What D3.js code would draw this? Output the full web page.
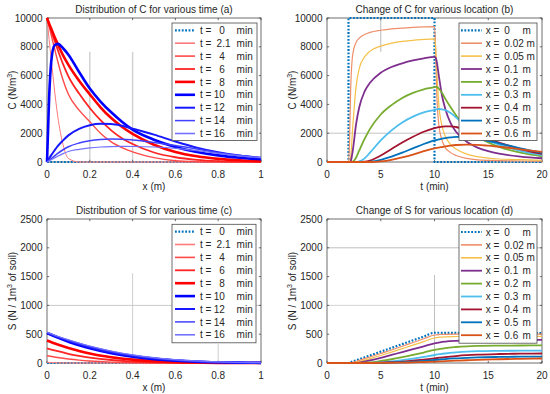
<!DOCTYPE html>
<html><head><meta charset="utf-8">
<script src="https://cdn.jsdelivr.net/npm/d3@7"></script>
<style>
body{margin:0;background:#fff}
svg{display:block}
text{font-family:"Liberation Sans",Arial,Helvetica,sans-serif;fill:#262626}
</style>
</head><body>
<svg id="c" width="550" height="394"></svg>
<script>
// ---------------- DATA ----------------
// Panel (a): C vs x at various times
const xA = [0, 0.01, 0.02, 0.035, 0.05, 0.075, 0.1, 0.15, 0.2, 0.25, 0.3, 0.35, 0.4, 0.5, 0.6, 0.7, 0.8, 0.9, 1.0];
const timeLabels = ["0", "2.1", "4", "6", "8", "10", "12", "14", "16"];
const CA_t0   = [0,0,0,0,0,0,0,0,0,0,0,0,0,0,0,0,0,0,0];
const CA_t2_1 = [10000,8500,7100,5000,3200,1200,250,0,0,0,0,0,0,0,0,0,0,0,0];
const CA_t4   = [10000,9400,8800,7900,7000,5700,4700,3600,2800,2000,1400,1000,700,300,90,20,0,0,0];
const CA_t6   = [10000,9550,9100,8450,7800,6800,5950,4750,3750,2900,2200,1650,1250,660,330,150,60,20,5];
const CA_t8   = [10000,9600,9250,8700,8200,7400,6750,5650,4700,3800,3050,2450,1950,1200,700,400,220,120,60];
const CA_t10  = [0,4500,7000,8100,8200,7900,7450,6250,5100,4200,3450,2800,2250,1550,1050,700,460,300,190];
const CA_t12  = [0,250,480,800,1100,1500,1850,2300,2550,2650,2640,2520,2320,1900,1420,1000,680,450,290];
const CA_t14  = [0,120,240,420,600,850,1060,1320,1480,1560,1590,1580,1530,1360,1150,900,650,450,300];
const CA_t16  = [0,80,160,280,400,580,730,880,980,1040,1070,1080,1075,1040,950,790,600,430,300];

// Panel (b): C vs t at various locations
const tB = [0, 2, 2.1, 2.2, 2.4, 2.7, 3, 3.5, 4, 5, 6, 7, 8, 9, 10, 10.1, 10.2, 10.4, 10.7, 11, 11.5, 12, 13, 14, 15, 16, 18, 20];
const locLabels = ["0", "0.02", "0.05", "0.1", "0.2", "0.3", "0.4", "0.5", "0.6"];
const CB_x0    = [[0,0],[2,0],[2,10000],[10,10000],[10,0],[20,0]];
const CB_x0_02 = [0,0,1500,5000,7500,8300,8600,8850,9000,9150,9250,9300,9350,9380,9400,8000,5000,2600,1500,1000,650,450,250,150,110,90,70,60];
const CB_x0_05 = [0,0,0,300,2500,5200,6500,7300,7700,8050,8250,8380,8450,8510,8550,8000,6500,4000,2500,1800,1200,900,550,370,270,210,160,120];
const CB_x0_1  = [0,0,0,50,800,2600,3800,4900,5500,6200,6600,6850,7050,7200,7300,7250,7000,6000,4600,3700,2700,2100,1400,1000,750,580,380,260];
const CB_x0_2  = [0,0,0,0,30,300,800,1600,2300,3300,3950,4450,4800,5050,5200,5220,5210,5100,4800,4400,3800,3250,2300,1750,1350,1050,650,400];
const CB_x0_3  = [0,0,0,0,0,0,40,250,650,1500,2200,2750,3150,3450,3620,3640,3660,3680,3660,3600,3400,3100,2400,1900,1500,1200,780,480];
const CB_x0_4  = [0,0,0,0,0,0,0,20,100,450,900,1350,1750,2100,2350,2370,2390,2420,2450,2480,2480,2430,2200,1850,1600,1350,900,560];
const CB_x0_5  = [0,0,0,0,0,0,0,0,20,150,380,650,950,1250,1500,1520,1540,1570,1620,1660,1710,1740,1720,1620,1450,1300,950,640];
const CB_x0_6  = [0,0,0,0,0,0,0,0,0,40,150,320,520,750,950,960,975,1000,1040,1080,1140,1180,1210,1190,1130,1060,880,700];

// Panel (c): S vs x at various times
const xC = [0, 0.05, 0.1, 0.15, 0.2, 0.3, 0.4, 0.5, 0.6, 0.7, 0.8, 0.9, 1.0];
const SC_t0   = [0,0,0,0,0,0,0,0,0,0,0,0,0];
const SC_t2_1 = [12,3,0.5,0,0,0,0,0,0,0,0,0,0];
const SC_t4   = [125,95,70,50,35,15,5,1,0,0,0,0,0];
const SC_t6   = [255,205,160,125,95,52,26,12,5,2,0,0,0];
const SC_t8   = [390,320,260,210,165,100,58,32,16,8,3,1,0];
const SC_t10  = [520,440,370,310,255,170,110,68,40,22,12,6,3];
const SC_t12  = [525,450,385,325,270,185,122,78,48,28,15,8,4];
const SC_t14  = [530,458,395,337,285,198,133,86,54,32,18,10,5];
const SC_t16  = [535,465,403,347,295,208,142,93,60,36,21,12,6];

// Panel (d): S vs t at various locations
const tD = [0, 2, 2.2, 2.5, 3, 4, 5, 6, 7, 8, 9, 10, 10.5, 11, 12, 13, 14, 16, 18, 20];
const SD_x0    = [0,0,13,33,66,131,197,262,328,394,459,525,525,524,523,522,521,520,519,518];
const SD_x0_02 = [0,0,3,15,45,105,165,225,290,355,420,486,495,498,500,500,500,500,500,500];
const SD_x0_05 = [0,0,0,5,25,75,130,190,250,310,372,434,448,455,460,462,462,462,462,462];
const SD_x0_1  = [0,0,0,1,8,45,90,140,190,240,290,342,360,372,385,392,396,399,400,400];
const SD_x0_2  = [0,0,0,0,1,10,35,65,100,140,182,226,245,260,278,290,297,302,304,305];
const SD_x0_3  = [0,0,0,0,0,3,12,28,50,76,106,139,153,165,183,197,205,211,214,215];
const SD_x0_4  = [0,0,0,0,0,1,5,13,25,40,59,81,92,103,121,135,145,156,162,165];
const SD_x0_5  = [0,0,0,0,0,0,2,6,13,22,35,52,60,68,80,90,97,105,110,112];
const SD_x0_6  = [0,0,0,0,0,0,1,3,6,11,17,23,27,31,40,48,55,65,73,78];

const xTicksA = [0, 0.2, 0.4, 0.6, 0.8, 1];
const tTicks = [0, 5, 10, 15, 20];
const cTicks = [0, 2000, 4000, 6000, 8000, 10000];
const sTicks = [0, 500, 1000, 1500, 2000, 2500];

// ---------------- STYLES ----------------
const timeStyles = [
  {c:"#0072BD", w:2.2, dash:"1.8,1.6"},
  {c:"#FF7A7A", w:1.0},
  {c:"#FF4A4A", w:1.4},
  {c:"#FF2424", w:1.8},
  {c:"#FF0000", w:2.6},
  {c:"#0000FF", w:2.6},
  {c:"#1818FF", w:2.0},
  {c:"#4040FF", w:1.5},
  {c:"#7272FF", w:1.2}
];
const locStyles = [
  {c:"#0072BD", w:2.2, dash:"1.8,1.6"},
  {c:"#EE8F6A", w:1.2},
  {c:"#F5C04A", w:1.2},
  {c:"#7E2F8E", w:1.8},
  {c:"#77AC30", w:1.8},
  {c:"#4DBEEE", w:1.8},
  {c:"#A2142F", w:1.8},
  {c:"#0072BD", w:1.8},
  {c:"#D95319", w:1.8}
];

const svg = d3.select("#c");
const zip = (xs, ys) => xs.map((x, i) => [x, ys[i]]);

function drawPanel(p) {
  const x = d3.scaleLinear().domain(p.xd).range([p.l, p.r]);
  const y = d3.scaleLinear().domain(p.yd).range([p.b, p.t]);
  const g = svg.append("g");

  // partial grid lines (as rendered in reference)
  p.grid.forEach(s => {
    g.append("line")
      .attr("x1", x(s[0])).attr("y1", y(s[1]))
      .attr("x2", x(s[2])).attr("y2", y(s[3]))
      .attr("stroke", s[4] || "#c8c8c8").attr("stroke-width", s[5] || 1);
  });

  // box
  g.append("rect").attr("x", p.l).attr("y", p.t)
    .attr("width", p.r - p.l).attr("height", p.b - p.t)
    .attr("fill", "none").attr("stroke", "#4a4a4a").attr("stroke-width", 0.8);

  // ticks
  const tl = 2.2;
  p.xt.forEach(v => {
    const px = x(v);
    g.append("line").attr("x1", px).attr("x2", px).attr("y1", p.b).attr("y2", p.b - tl).attr("stroke", "#4a4a4a").attr("stroke-width", 0.8);
    g.append("line").attr("x1", px).attr("x2", px).attr("y1", p.t).attr("y2", p.t + tl).attr("stroke", "#4a4a4a").attr("stroke-width", 0.8);
    g.append("text").attr("x", px).attr("y", p.b + 15.5).attr("text-anchor", "middle")
      .attr("font-size", 10).text(d3.format("~g")(v));
  });
  p.yt.forEach(v => {
    const py = y(v);
    g.append("line").attr("x1", p.l).attr("x2", p.l + tl).attr("y1", py).attr("y2", py).attr("stroke", "#4a4a4a").attr("stroke-width", 0.8);
    g.append("line").attr("x1", p.r).attr("x2", p.r - tl).attr("y1", py).attr("y2", py).attr("stroke", "#4a4a4a").attr("stroke-width", 0.8);
    g.append("text").attr("x", p.l - 4.5).attr("y", py + 3.6).attr("text-anchor", "end")
      .attr("font-size", 10).text(v);
  });

  // title
  g.append("text").attr("x", (p.l + p.r) / 2).attr("y", p.t - 5).attr("text-anchor", "middle")
    .attr("font-size", 10).text(p.title);
  // x label
  g.append("text").attr("x", (p.l + p.r) / 2).attr("y", p.b + 27.5).attr("text-anchor", "middle")
    .attr("font-size", 10).text(p.xl);
  // y label with superscript
  const yl = g.append("text").attr("transform", `translate(${p.l - 31.5},${(p.t + p.b) / 2}) rotate(-90)`)
    .attr("text-anchor", "middle").attr("font-size", 10);
  yl.append("tspan").text(p.yl[0]);
  yl.append("tspan").attr("font-size", 7).attr("dy", -4).text("3");
  yl.append("tspan").attr("dy", 4).text(p.yl[1]);

  // series
  const line = d3.line().x(d => x(d[0])).y(d => y(d[1]));
  p.series.forEach((s, i) => {
    const st = p.styles[i];
    g.append("path").datum(s)
      .attr("d", line.curve(s.step ? d3.curveLinear : d3.curveMonotoneX)(s))
      .attr("fill", "none").attr("stroke", st.c).attr("stroke-width", st.w)
      .attr("stroke-dasharray", st.dash || null)
      .attr("stroke-linejoin", "round");
  });

  // legend
  const L = p.leg;
  g.append("rect").attr("x", L.x).attr("y", L.y).attr("width", L.w).attr("height", L.h)
    .attr("fill", "#fff").attr("stroke", "#4a4a4a").attr("stroke-width", 0.8);
  p.labels.forEach((lab, i) => {
    const cy = L.y + 7.3 + i * 12.9;
    const st = p.styles[i];
    g.append("line").attr("x1", L.x + L.l1).attr("x2", L.x + L.l2).attr("y1", cy).attr("y2", cy)
      .attr("stroke", st.c).attr("stroke-width", st.w < 1.5 ? 1.6 : st.w)
      .attr("stroke-dasharray", st.dash || null);
    const ty = cy + 3.6;
    g.append("text").attr("x", L.x + L.t1).attr("y", ty).attr("font-size", 10).text(p.prefix);
    let numEnd;
    if (p.prefix === "t =") {
      if (lab.indexOf(".") >= 0) {
        const tn = g.append("text").attr("x", L.x + 44.6).attr("y", ty).attr("font-size", 10).text(lab);
        numEnd = L.x + 44.6 + tn.node().getComputedTextLength();
      } else {
        g.append("text").attr("x", L.x + 52.8).attr("y", ty).attr("font-size", 10).attr("text-anchor", "end").text(lab);
        numEnd = L.x + 52.8;
      }
      g.append("text").attr("x", L.x + 64.6).attr("y", ty).attr("font-size", 10).text(p.unit);
    } else {
      const tn = g.append("text").attr("x", L.x + 45.3).attr("y", ty).attr("font-size", 10).text(lab);
      numEnd = L.x + 45.3 + tn.node().getComputedTextLength();
      g.append("text").attr("x", Math.max(L.x + 63.5, numEnd + 2.8)).attr("y", ty).attr("font-size", 10).text(p.unit);
    }
  });
}

const seriesA = [CA_t0, CA_t2_1, CA_t4, CA_t6, CA_t8, CA_t10, CA_t12, CA_t14, CA_t16].map(v => zip(xA, v));
const seriesB = [CB_x0, ...[CB_x0_02, CB_x0_05, CB_x0_1, CB_x0_2, CB_x0_3, CB_x0_4, CB_x0_5, CB_x0_6].map(v => zip(tB, v))];
seriesB[0].step = true;
const seriesC = [SC_t0, SC_t2_1, SC_t4, SC_t6, SC_t8, SC_t10, SC_t12, SC_t14, SC_t16].map(v => zip(xC, v));
const seriesD = [SD_x0, SD_x0_02, SD_x0_05, SD_x0_1, SD_x0_2, SD_x0_3, SD_x0_4, SD_x0_5, SD_x0_6].map(v => zip(tD, v));

drawPanel({
  l: 47, r: 261, t: 18, b: 162, xd: [0, 1], yd: [0, 10000], xt: xTicksA, yt: cTicks,
  title: "Distribution of C for various time (a)", xl: "x (m)", yl: ["C (N/m", ")"],
  grid: [[0.2, 7650, 0.2, 0, "#cfcfcf", 1.4], [0.4, 7650, 0.4, 0, "#cfcfcf", 1.4]],
  series: seriesA, styles: timeStyles, labels: timeLabels, prefix: "t =", unit: "min",
  leg: {x: 172, y: 23, w: 85, h: 117.5, l1: 3, l2: 23, t1: 28}
});
drawPanel({
  l: 327, r: 542, t: 18, b: 162, xd: [0, 20], yd: [0, 10000], xt: tTicks, yt: cTicks,
  title: "Change of C for various location (b)", xl: "t (min)", yl: ["C (N/m", ")"],
  grid: [[5, 10000, 5, 7650, "#b8b8b8", 1], [0, 2000, 20, 2000, "#bdbdbd", 0.9]],
  series: seriesB, styles: locStyles, labels: locLabels, prefix: "x =", unit: "m",
  leg: {x: 459, y: 23, w: 78, h: 117.5, l1: 2, l2: 23, t1: 26.7}
});
drawPanel({
  l: 47, r: 261, t: 219, b: 363, xd: [0, 1], yd: [0, 2500], xt: xTicksA, yt: sTicks,
  title: "Distribution of S for various time (c)", xl: "x (m)", yl: ["S (N / 1m", " of soil)"],
  grid: [[0, 1000, 1, 1000, "#c4c4c4", 0.9], [0.4, 1560, 0.4, 0, "#c8c8c8", 0.9], [0.8, 330, 0.8, 0, "#c8c8c8", 0.9]],
  series: seriesC, styles: timeStyles, labels: timeLabels, prefix: "t =", unit: "min",
  leg: {x: 172, y: 224.3, w: 84, h: 118.5, l1: 3, l2: 23, t1: 28}
});
drawPanel({
  l: 327, r: 542, t: 219, b: 363, xd: [0, 20], yd: [0, 2500], xt: tTicks, yt: sTicks,
  title: "Change of S for various location (d)", xl: "t (min)", yl: ["S (N / 1m", " of soil)"],
  grid: [[0, 2000, 20, 2000, "#b8b8b8", 0.9], [0, 1000, 20, 1000, "#d0d0d0", 0.9], [10, 1530, 10, 0, "#b8b8b8", 0.9]],
  series: seriesD, styles: locStyles, labels: locLabels, prefix: "x =", unit: "m",
  leg: {x: 459, y: 224.7, w: 78, h: 118.5, l1: 2, l2: 23, t1: 26.7}
});
</script>
</body></html>
